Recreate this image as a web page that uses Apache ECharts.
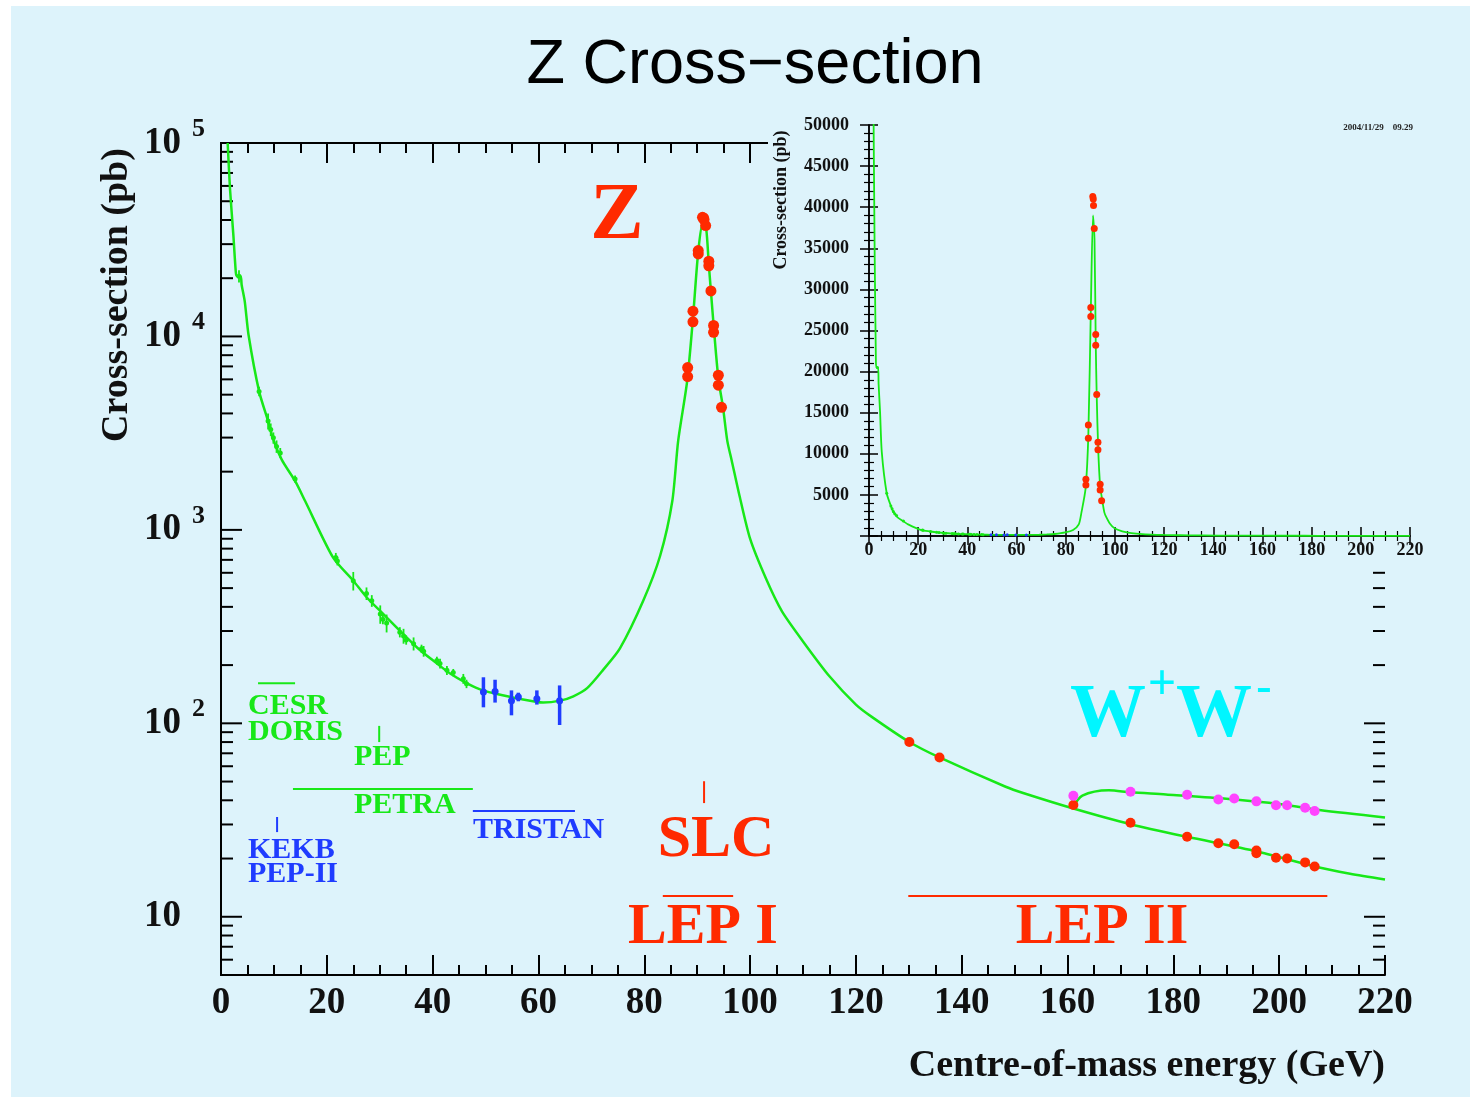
<!DOCTYPE html>
<html><head><meta charset="utf-8">
<script src="https://cdn.jsdelivr.net/npm/echarts@6/dist/echarts.min.js"></script>
<style>
html,body{margin:0;padding:0;background:#fff;}
#bg{position:absolute;left:11px;top:6px;width:1459px;height:1091px;background:#ddf3fb;}
#main{position:absolute;left:0;top:0;width:1470px;height:1099px;}
</style></head><body>
<div id="bg"></div><div id="main"></div>
<script>
// ---------- data ----------
const curveE = [1.26, 1.7, 2.33, 2.8, 3.0, 3.7, 3.9, 4.5, 5.2, 7.2, 8.9, 9.8, 11.5, 14.0, 15.9, 21.2, 25.0, 27.6, 30.6, 33.8, 37.1, 40.1, 43.3, 46.5, 49.5, 53.0, 56.0, 60.9, 64.1, 66.6, 69.2, 72.3, 75.4, 79.8, 83.0, 85.3, 86.4, 88.1, 89.2, 90.2, 91.1, 91.7, 92.2, 92.6, 93.2, 94.0, 94.9, 95.7, 96.5, 98.0, 100, 103, 106, 110, 115, 120, 123, 130.1, 135.8, 148.3, 151.9, 161.1, 171.9, 182.6, 195.7, 206.7, 213.4, 220];
const curveS = [100000, 58000, 33600, 21500, 20500, 20500, 18500, 15100, 10200, 5200, 3650, 2980, 2300, 1790, 1410, 718, 546, 446, 369, 301, 246, 211, 181, 161, 148, 140, 134.6, 128, 131, 138, 152, 190, 244, 430, 735, 1410, 2877, 5861, 12380, 27420, 39000, 36060, 23500, 17060, 10620, 6080, 4260, 2877, 2300, 1500, 900, 560, 380, 265, 175, 125, 108, 80.1, 66.6, 47, 43.4, 36.3, 30.1, 25.9, 21.8, 18.2, 16.7, 15.6];

const wwCurveE = [161.0, 162.8, 167.8, 171.9, 178.6, 189.5, 200.4, 207.6, 220];
const wwCurveS = [36.5, 42.3, 45.1, 44.0, 42.9, 40.9, 38.2, 35.6, 32.6];

const greenE   = [3.4, 7.2, 8.9, 9.4, 9.9, 10.5, 11.2, 14.0, 21.7, 22.0, 25.0, 27.5, 28.5, 30.1, 30.6, 31.3, 33.8, 34.5, 35.0, 36.4, 37.9, 38.3, 40.8, 41.4, 42.7, 43.9, 45.8, 46.4];
const greenS   = [20500, 5200, 3650, 3300, 2990, 2700, 2500, 1830, 720, 690, 546, 469, 430, 367, 345, 330, 296, 283, 270, 258, 243, 236, 211, 204, 188, 183, 170, 160];
const greenErr = [1500, 300, 350, 250, 200, 200, 150, 80, 40, 35, 60, 35, 30, 40, 20, 35, 18, 25, 15, 20, 12, 15, 10, 12, 10, 8, 10, 8];

const blueE  = [49.6, 51.8, 54.9, 56.2, 59.7, 64.0];
const blueS  = [145, 146, 131, 137, 134, 131];
const blueLo = [121, 128, 110, 130, 125, 98];
const blueHi = [173, 168, 148, 144, 148, 157];

const lep1E = [88.2, 88.2, 89.2, 89.2, 90.2, 90.2, 91.0, 91.2, 91.3, 91.6, 92.2, 92.2, 92.6, 93.1, 93.1, 94.0, 94.0, 94.6];
const lep1S = [6900, 6200, 13500, 11900, 27800, 26700, 41300, 41000, 40200, 37400, 24500, 23200, 17200, 11400, 10500, 6300, 5600, 4300];

const lep2E = [130.1, 135.8, 161.1, 171.9, 182.6, 188.5, 191.5, 195.7, 195.7, 199.4, 201.5, 204.9, 206.7];
const lep2S = [80.1, 66.6, 37.8, 30.6, 25.9, 24.0, 23.7, 22.0, 21.3, 20.2, 20.0, 19.1, 18.2];

const wwE = [161.1, 171.9, 182.6, 188.5, 191.5, 195.7, 199.4, 201.5, 204.9, 206.7];
const wwS = [42.2, 44.3, 42.7, 40.4, 40.9, 39.5, 37.7, 37.7, 36.6, 35.2];

// accelerator energy ranges (GeV) and the level (pb) where they are drawn
const cesrRange = [7, 14],        cesrLevel = 161;
const petraRange = [13.6, 47.6],  petraLevel = 45.7;
const tristanRange = [47.6, 66.9], tristanLevel = 35.2;
const pepMark = 29.9,  pepLevels = [80, 97];
const kekbMark = 10.6, kekbLevels = [27.4, 32.8];
const slcMark = 91.3,  slcLevels = [38.7, 50.2];
const lep1Range = [83.5, 96.8], lep2Range = [129.9, 209.1], lepLevel = 12.8;

// axes
const xTicks = {min: 0, max: 220, interval: 20};
const yLogRange = {min: 5, max: 100000};
const yDecades = [10, 100, 1000, 10000, 100000];
const yDecadeExp = ['', '2', '3', '4', '5'];
const insetY = {min: 0, max: 50000, interval: 5000};

// ---------- chart ----------
const SERIF = "'Liberation Serif','Times New Roman',serif";
const BG = '#ddf3fb';
const GREEN = '#18e818';
const RED = '#ff2a00';
const BLUE = '#1f3cff';
const MAGENTA = '#ff44ff';
const CYAN = '#00f6ff';

const pair = (xs, ys) => xs.map((x, i) => [x, ys[i]]);

function errRender(color, w) {
  return function (params, api) {
    const x = api.value(0);
    const a = api.coord([x, api.value(1)]);
    const b = api.coord([x, api.value(2)]);
    return {type: 'line', shape: {x1: a[0], y1: a[1], x2: b[0], y2: b[1]}, style: {stroke: color, lineWidth: w}};
  };
}

// log axis tick positions (axis furniture): [x, value, length]
const logTicks = [];
for (let d = 0; d < 5; d++) for (let k = 1; k <= 9; k++) {
  const v = k * Math.pow(10, d);
  if (v > yLogRange.min && v < yLogRange.max) logTicks.push([0, v, k === 1 ? 21 : 12]);
}

const axisBlack = {lineStyle: {color: '#000', width: 2}};
function mainX(pos, showLabel) {
  return {
    type: 'value', gridIndex: 0, position: pos, min: xTicks.min, max: xTicks.max, interval: xTicks.interval,
    axisLine: axisBlack,
    axisTick: {inside: true, length: 20, lineStyle: {color: '#000', width: 2}},
    minorTick: {show: true, splitNumber: 4, length: 10, lineStyle: {color: '#000', width: 2}},
    splitLine: {show: false}, minorSplitLine: {show: false},
    axisLabel: {show: showLabel, fontSize: 37, fontFamily: SERIF, fontWeight: 'bold', color: '#111', margin: 10}
  };
}
function mainY(pos) {
  return {
    type: 'log', logBase: 10, gridIndex: 0, position: pos, min: yLogRange.min, max: yLogRange.max,
    axisLine: axisBlack,
    axisTick: {show: false}, minorTick: {show: false},
    splitLine: {show: false}, minorSplitLine: {show: false},
    axisLabel: {show: false}
  };
}
function insetX(pos, showLabel) {
  return {
    type: 'value', gridIndex: 1, position: pos, min: xTicks.min, max: xTicks.max, interval: xTicks.interval, z: 20,
    axisLine: {lineStyle: {color: '#000', width: 1.5}},
    axisTick: {inside: true, length: 9, lineStyle: {color: '#000', width: 1.5}},
    minorTick: {show: true, splitNumber: 4, length: 5, lineStyle: {color: '#000', width: 1.2}},
    splitLine: {show: false}, minorSplitLine: {show: false},
    axisLabel: {show: showLabel, fontSize: 18, fontFamily: SERIF, fontWeight: 'bold', color: '#111', margin: 5}
  };
}
function insetYAxis(pos, showLabel) {
  return {
    type: 'value', gridIndex: 1, position: pos, min: insetY.min, max: insetY.max, interval: insetY.interval, z: 20,
    axisLine: {lineStyle: {color: '#000', width: 1.5}},
    axisTick: {inside: true, length: 9, lineStyle: {color: '#000', width: 1.5}},
    minorTick: {show: true, splitNumber: 5, length: 5, lineStyle: {color: '#000', width: 1.2}},
    splitLine: {show: false}, minorSplitLine: {show: false},
    axisLabel: {show: showLabel, fontSize: 18, fontFamily: SERIF, fontWeight: 'bold', color: '#111', margin: 20,
      formatter: v => (v === 0 ? '' : String(v))}
  };
}

function rangeLine(xs, level, color) {
  return {type: 'line', xAxisIndex: 0, yAxisIndex: 0, data: [[xs[0], level], [xs[1], level]], symbol: 'none', silent: true,
    lineStyle: {color: color, width: 2}, z: 3};
}
function markLine(x, levels, color) {
  return {type: 'line', xAxisIndex: 0, yAxisIndex: 0, data: [[x, levels[0]], [x, levels[1]]], symbol: 'none', silent: true,
    lineStyle: {color: color, width: 2}, z: 3};
}
function dots(xi, yi, xs, ys, color, size, z) {
  return {type: 'scatter', xAxisIndex: xi, yAxisIndex: yi, data: pair(xs, ys), symbol: 'circle', symbolSize: size,
    itemStyle: {color: color, opacity: 1}, silent: true, z: z};
}

function txt(text, x, y, font, fill, align, extra) {
  return Object.assign({type: 'text', x: x, y: y, z: 30, silent: true,
    style: {text: text, font: font, fill: fill, align: align || 'center', verticalAlign: 'middle'}}, extra || {});
}

const chart = echarts.init(document.getElementById('main'), null, {renderer: 'canvas'});
const baseGraphic = [
  {type: 'rect', z: 15, silent: true, shape: {x: 768, y: 100, width: 702, height: 463}, style: {fill: BG}},
  txt('Z Cross\u2212section', 755, 66, "63px 'Liberation Sans', Arial, sans-serif", '#000'),
  txt('Cross-section (pb)', 117, 295, 'bold 38px ' + SERIF, '#111', 'center', {rotation: Math.PI / 2}),
  txt('Centre-of-mass energy (GeV)', 1385, 1066, 'bold 38px ' + SERIF, '#111', 'right'),
  txt('Cross-section (pb)', 781, 200, 'bold 18px ' + SERIF, '#111', 'center', {rotation: Math.PI / 2}),
  txt('2004/11/29    09.29', 1413, 128, 'bold 9px ' + SERIF, '#222', 'right'),
  txt('Z', 617, 217, 'bold 80px ' + SERIF, RED),
  txt('SLC', 716, 840, 'bold 60px ' + SERIF, RED),
  txt('LEP I', 703, 928, 'bold 58px ' + SERIF, RED),
  txt('LEP II', 1102, 928, 'bold 58px ' + SERIF, RED),
  txt('W', 1108, 716, 'bold 76px ' + SERIF, CYAN),
  txt('+', 1162, 686, 'bold 50px ' + SERIF, CYAN),
  txt('W', 1214, 716, 'bold 76px ' + SERIF, CYAN),
  txt('-', 1264, 689, 'bold 46px ' + SERIF, CYAN),
  txt('CESR', 248, 706, 'bold 30px ' + SERIF, GREEN, 'left'),
  txt('DORIS', 248, 732, 'bold 30px ' + SERIF, GREEN, 'left'),
  txt('PEP', 354, 757, 'bold 30px ' + SERIF, GREEN, 'left'),
  txt('PETRA', 354, 805, 'bold 30px ' + SERIF, GREEN, 'left'),
  txt('TRISTAN', 473, 830, 'bold 30px ' + SERIF, BLUE, 'left'),
  txt('KEKB', 248, 850, 'bold 30px ' + SERIF, BLUE, 'left'),
  txt('PEP-II', 248, 874, 'bold 30px ' + SERIF, BLUE, 'left')
];

chart.setOption({
  backgroundColor: 'transparent',
  animation: false,
  grid: [
    {left: 221, top: 143, right: 85, bottom: 124, outerBoundsMode: 'none', containLabel: false},
    {left: 869, top: 125, right: 60, bottom: 563, outerBoundsMode: 'none', containLabel: false}
  ],
  xAxis: [mainX('bottom', true), mainX('top', false), insetX('bottom', true), insetX('top', false)],
  yAxis: [mainY('left'), mainY('right'), insetYAxis('left', true), insetYAxis('right', false)],
  graphic: baseGraphic,
  series: [
    // log ticks on main left/right axes
    {type: 'custom', xAxisIndex: 0, yAxisIndex: 0, silent: true, z: 1, clip: false, data: logTicks,
      encode: {x: 0, y: 1},
      renderItem: function (params, api) {
        const v = api.value(1), len = api.value(2);
        const l = api.coord([xTicks.min, v]);
        const r = api.coord([xTicks.max, v]);
        return {type: 'group', children: [
          {type: 'line', shape: {x1: l[0], y1: l[1], x2: l[0] + len, y2: l[1]}, style: {stroke: '#000', lineWidth: 2}},
          {type: 'line', shape: {x1: r[0] - len, y1: r[1], x2: r[0], y2: r[1]}, style: {stroke: '#000', lineWidth: 2}}
        ]};
      }},
    // main curves
    {type: 'line', xAxisIndex: 0, yAxisIndex: 0, data: pair(curveE, curveS), showSymbol: false, smooth: 0.25,
      lineStyle: {color: GREEN, width: 2.5}, silent: true, z: 3},
    {type: 'line', xAxisIndex: 0, yAxisIndex: 0, data: pair(wwCurveE, wwCurveS), showSymbol: false, smooth: 0.3,
      lineStyle: {color: GREEN, width: 2.5}, silent: true, z: 3},
    // low energy data
    {type: 'custom', xAxisIndex: 0, yAxisIndex: 0, silent: true, z: 4, encode: {x: 0, y: [1, 2]},
      data: greenE.map((x, i) => [x, greenS[i] - greenErr[i], greenS[i] + greenErr[i]]), renderItem: errRender(GREEN, 1.8)},
    dots(0, 0, greenE, greenS, GREEN, 5, 4),
    {type: 'custom', xAxisIndex: 0, yAxisIndex: 0, silent: true, z: 4, encode: {x: 0, y: [1, 2]},
      data: blueE.map((x, i) => [x, blueLo[i], blueHi[i]]), renderItem: errRender(BLUE, 3.5)},
    dots(0, 0, blueE, blueS, BLUE, 7, 4),
    // LEP data
    dots(0, 0, lep1E, lep1S, RED, 11, 5),
    dots(0, 0, lep2E, lep2S, RED, 10, 5),
    dots(0, 0, wwE, wwS, MAGENTA, 10, 5),
    // accelerator ranges
    rangeLine(cesrRange, cesrLevel, GREEN),
    rangeLine(petraRange, petraLevel, GREEN),
    rangeLine(tristanRange, tristanLevel, BLUE),
    markLine(pepMark, pepLevels, GREEN),
    markLine(kekbMark, kekbLevels, BLUE),
    markLine(slcMark, slcLevels, RED),
    rangeLine(lep1Range, lepLevel, RED),
    rangeLine(lep2Range, lepLevel, RED),
    // inset
    {type: 'line', xAxisIndex: 2, yAxisIndex: 2, data: pair(curveE, curveS), showSymbol: false, smooth: 0.25,
      lineStyle: {color: GREEN, width: 1.8}, silent: true, z: 21, clip: true},
    dots(2, 2, greenE, greenS, GREEN, 3, 21),
    dots(2, 2, blueE, blueS, BLUE, 3, 21),
    dots(2, 2, lep1E, lep1S, RED, 7, 22)
  ]
});

// decade labels "10^n" on the main log axis, placed through the axis scale
const axisX = chart.convertToPixel({xAxisIndex: 0}, xTicks.min);
const decadeLabels = [];
yDecades.forEach((v, i) => {
  const py = chart.convertToPixel({yAxisIndex: 0}, v);
  decadeLabels.push(txt('10', axisX - 40, py, 'bold 37px ' + SERIF, '#111', 'right'));
  if (yDecadeExp[i]) decadeLabels.push(txt(yDecadeExp[i], axisX - 29, py - 14, 'bold 26px ' + SERIF, '#111', 'left'));
});
chart.setOption({graphic: baseGraphic.concat(decadeLabels)});
</script>
</body></html>
